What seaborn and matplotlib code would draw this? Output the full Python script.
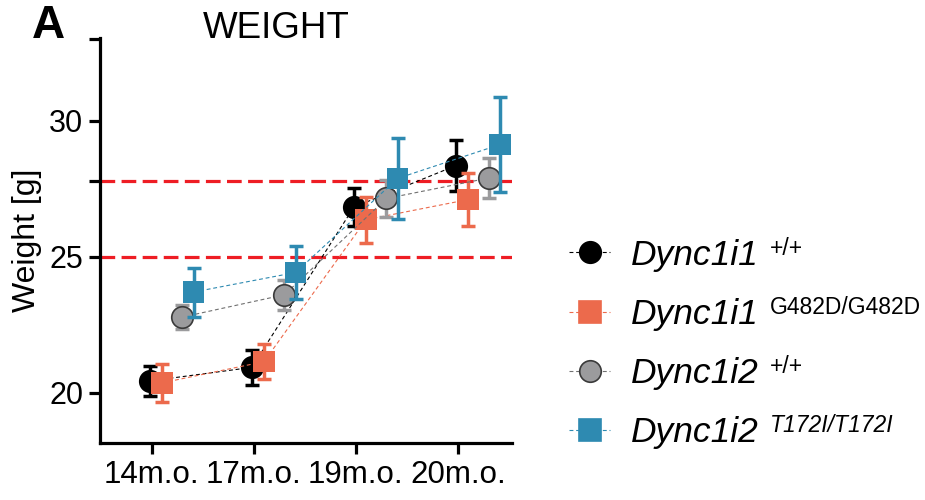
import numpy as np
import pandas as pd
import matplotlib
matplotlib.use("Agg")
import matplotlib.pyplot as plt
import seaborn as sns
from matplotlib.lines import Line2D

# ---- data -------------------------------------------------------------
ages = ["14m.o.", "17m.o.", "19m.o.", "20m.o."]
genotypes = ["Dync1i1", "Dync1i1", "Dync1i2", "Dync1i2"]
alleles = ["+/+", "G482D/G482D", "+/+", "T172I/T172I"]

weight_i1_wt = [20.43, 20.93, 26.82, 28.35]
sd_i1_wt = [0.56, 0.65, 0.70, 0.95]
weight_i1_g482d = [20.36, 21.14, 26.36, 27.10]
sd_i1_g482d = [0.70, 0.64, 0.85, 0.97]
weight_i2_wt = [22.78, 23.60, 27.14, 27.89]
sd_i2_wt = [0.45, 0.56, 0.68, 0.73]
weight_i2_t172i = [23.70, 24.42, 27.88, 29.12]
sd_i2_t172i = [0.90, 0.98, 1.50, 1.74]

reference_weights = [27.8, 25.0]
y_ticks = [20, 25, 27.8, 30, 33]
y_tick_labels = ["20", "25", "", "30", ""]

# ---- styling ------------------------------------------------------------
sns.set_theme(style="ticks")
plt.rcParams["font.family"] = ["Liberation Sans", "DejaVu Sans"]
plt.rcParams.update({
    "text.color": "black",
    "axes.labelcolor": "black",
    "axes.edgecolor": "black",
    "xtick.color": "black",
    "ytick.color": "black",
})

group_styles = [
    dict(marker="o", fill="#000000", edge="#000000", line="#000000", err="#000000"),
    dict(marker="s", fill="#EC6A4C", edge="none", line="#EC6A4C", err="#EC6A4C"),
    dict(marker="o", fill="#9B9B9D", edge="#3A3A3A", line="#707070", err="#9B9B9D"),
    dict(marker="s", fill="#2E8AB1", edge="none", line="#2E8AB1", err="#2E8AB1"),
]
x_shift = [-0.02, 0.10, 0.30, 0.41]

means = [weight_i1_wt, weight_i1_g482d, weight_i2_wt, weight_i2_t172i]
sds = [sd_i1_wt, sd_i1_g482d, sd_i2_wt, sd_i2_t172i]

records = []
for g, (m, s) in enumerate(zip(means, sds)):
    for i, age in enumerate(ages):
        records.append(dict(group=g, age=age, pos=i + x_shift[g], weight=m[i], sd=s[i]))
df = pd.DataFrame(records)

fig = plt.figure(figsize=(9.25, 5.0), dpi=100)
ax = fig.add_axes([100 / 925, 1 - 443 / 500, 412 / 925, 405 / 500])

for y in reference_weights:
    ax.axhline(y, color="#EE1D24", lw=2.3, ls=(0, (4.6, 2.0)),
               dash_capstyle="butt", zorder=1.5)

for g, st in enumerate(group_styles):
    sub = df[df["group"] == g]
    z = 3 + 3 * g
    sns.lineplot(data=sub, x="pos", y="weight", color=st["line"], lw=0.8,
                 linestyle=(0, (3.5, 2.5)), errorbar=None, ax=ax, zorder=z,
                 legend=False)
    ax.errorbar(sub["pos"], sub["weight"], yerr=sub["sd"], fmt="none",
                ecolor=st["err"], elinewidth=2.5, capsize=5, capthick=2.5,
                zorder=z + 1)
    sns.scatterplot(data=sub, x="pos", y="weight", marker=st["marker"], s=240,
                    color=st["fill"], edgecolor=st["edge"], linewidth=1.2,
                    ax=ax, zorder=z + 2, legend=False)

ax.set_xlim(-0.507, 3.53)
ax.set_ylim(18.15, 33.04)
ax.set_xticks(range(len(ages)))
ax.set_xticklabels(ages)
ax.set_yticks(y_ticks)
ax.set_yticklabels(y_tick_labels)
ax.set_xlabel("")
ax.set_ylabel("Weight [g]", fontsize=23, labelpad=5)

sns.despine(ax=ax)
for side in ("left", "bottom"):
    ax.spines[side].set_linewidth(2.3)
    ax.spines[side].set_color("black")
ax.tick_params(axis="both", width=2.3, length=8, color="black", labelcolor="black")
ax.tick_params(axis="x", pad=4, labelsize=22.5)
ax.tick_params(axis="y", pad=4, labelsize=22)

fig.text(276 / 925, 1 - 28 / 500, "WEIGHT", fontsize=26.5, ha="center", va="center")
fig.text(32 / 925, 1 - 26 / 500, "A", fontsize=33, fontweight="bold",
         ha="left", va="center")

# ---- legend -----------------------------------------------------------
handles = [
    Line2D([], [], color=st["line"], lw=0.8, ls=(0, (3.5, 2.5)), marker=st["marker"],
           markersize=15.5, markerfacecolor=st["fill"],
           markeredgecolor=st["edge"] if st["edge"] != "none" else st["fill"],
           markeredgewidth=1.2)
    for st in group_styles
]
main_size = 25.5
sup_size = 16.5
leg = fig.legend(handles, genotypes, loc="center left",
                 bbox_to_anchor=(555 / 925, 1 - 344 / 500), frameon=False,
                 prop=dict(size=main_size, style="italic"), handlelength=1.15,
                 handletextpad=0.6, labelspacing=0.74, borderaxespad=0)

fig.canvas.draw()
renderer = fig.canvas.get_renderer()
inv = fig.transFigure.inverted()
px_per_pt = fig.dpi / 72.0
cap = 0.716
raise_px = (main_size - sup_size) * cap * px_per_pt + 1.0
for txt, allele in zip(leg.get_texts(), alleles):
    bb = txt.get_window_extent(renderer)
    base_y = txt.get_transform().transform(txt.get_position())[1]
    x0, y0 = inv.transform((bb.x1 + 11, base_y + raise_px))
    fig.text(x0, y0, allele, fontsize=sup_size,
             style="italic" if allele.startswith("T") else "normal",
             ha="left", va="baseline")

fig.savefig("out.png", dpi=100)
